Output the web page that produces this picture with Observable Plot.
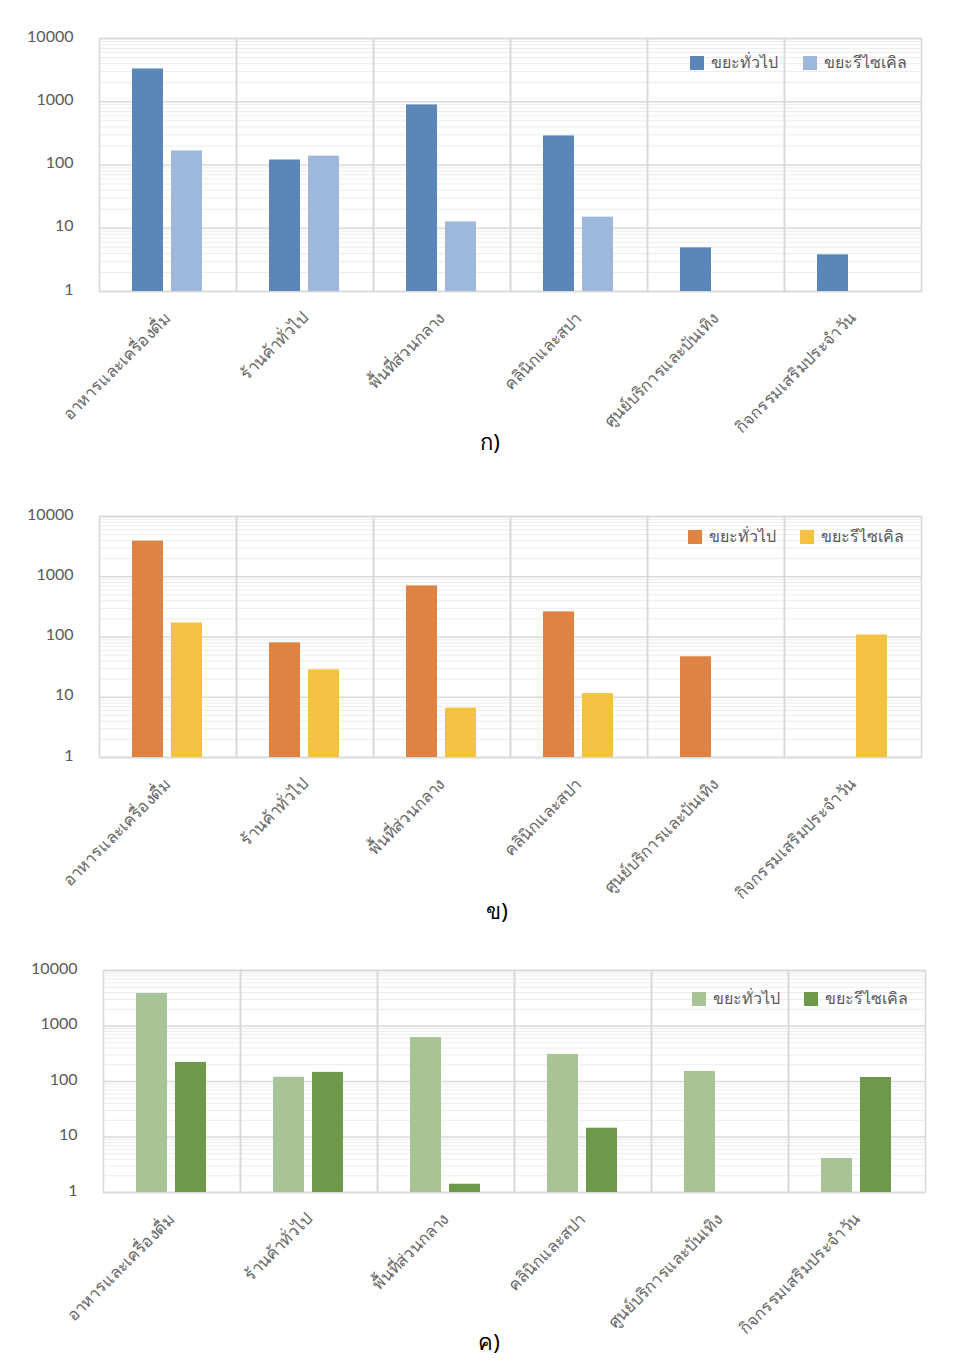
<!DOCTYPE html>
<html>
<head>
<meta charset="utf-8">
<script src="https://cdn.jsdelivr.net/npm/d3@7"></script>
<script src="https://cdn.jsdelivr.net/npm/@observablehq/plot@0.6"></script>
<style>
  html, body { margin: 0; padding: 0; background: #fff; }
  body { width: 966px; height: 1370px; position: relative; overflow: hidden;
         font-family: "Noto Sans", "DejaVu Sans", sans-serif; }
  .panel { position: absolute; left: 0; }
  .legitem { position: absolute; display: flex; align-items: center; font-size: 16px; color: #595959; white-space: nowrap; }
  .legitem .sw { display: inline-block; width: 14px; height: 14px; margin-right: 7px; }
  .caption { position: absolute; font-size: 22px; color: #000; transform: translate(-50%, -50%); }
</style>
</head>
<body>
<script>
// ---------- data ----------
const categories = ["อาหารและเครื่องดื่ม", "ร้านค้าทั่วไป", "พื้นที่ส่วนกลาง", "คลินิกและสปา", "ศูนย์บริการและบันเทิง", "กิจกรรมเสริมประจำวัน"];
const seriesNames = ["ขยะทั่วไป", "ขยะรีไซเคิล"];

const generalA = [3300, 120, 890, 288, 4.9, 3.8];
const recycleA = [167, 138, 12.6, 15, null, null];

const generalB = [3900, 80, 705, 261, 47, null];
const recycleB = [171, 28.5, 6.6, 11.5, null, 108];

const generalC = [3850, 119, 620, 308, 152, 4.1];
const recycleC = [221, 146, 1.41, 14.4, null, 118];

const yTicks = [1, 10, 100, 1000, 10000];
const panelLabels = ["ก)", "ข)", "ค)"];

const colorsA = ["#5B86B8", "#9EB8DC"];
const colorsB = ["#DF8344", "#F4C242"];
const colorsC = ["#A8C496", "#6E994A"];

// minor log gridlines (2..9 within each decade)
const minorTicks = [];
for (const d of yTicks.slice(0, -1)) for (let m = 2; m <= 9; m++) minorTicks.push(m * d);

function makePanel(general, recycle, colors, L) {
  const rows = [];
  categories.forEach((c, i) => {
    if (general[i] != null) rows.push({cat: c, series: seriesNames[0], value: general[i]});
    if (recycle[i] != null) rows.push({cat: c, series: seriesNames[1], value: recycle[i]});
  });

  const chart = Plot.plot({
    width: 966,
    height: L.height,
    marginLeft: L.ml,
    marginRight: L.mr,
    marginTop: L.mt,
    marginBottom: L.mb,
    style: {fontFamily: "Lato, 'Noto Sans', sans-serif", color: "#595959", background: "transparent"},
    fx: {domain: categories, padding: 0, label: null},
    x: {domain: seriesNames, paddingInner: 0.2, paddingOuter: 0.85, axis: null},
    y: {type: "log", domain: [1, 10000], axis: null},
    color: {domain: seriesNames, range: colors},
    marks: [
      Plot.ruleY(minorTicks, {stroke: "#ececec", strokeWidth: 1}),
      Plot.ruleY(yTicks, {stroke: "#d9d9d9", strokeWidth: 1.6}),
      Plot.frame({stroke: "#d9d9d9", strokeWidth: 1.6}),
      Plot.barY(rows, {fx: "cat", x: "series", y1: 1, y2: "value", fill: "series", inset: 0}),
      Plot.axisY({ticks: yTicks, tickFormat: d => String(d), tickSize: 0, tickPadding: 26, dy: -2, fontSize: 16, fill: "#595959", label: null, fontFamily: "Lato, sans-serif"}),
      Plot.axisFx({anchor: "bottom", tickRotate: -45, tickSize: 0, tickPadding: 24, fontSize: 16.5, fill: "#666666", label: null})
    ]
  });
  chart.classList.add("panel");
  chart.style.top = L.top + "px";
  document.body.appendChild(chart);

  seriesNames.forEach((s, i) => {
    const it = document.createElement("div");
    it.className = "legitem";
    it.style.left = L.legX[i] + "px";
    it.style.top = L.legY + "px";
    const sw = document.createElement("span");
    sw.className = "sw";
    sw.style.background = colors[i];
    it.appendChild(sw);
    it.appendChild(document.createTextNode(s));
    document.body.appendChild(it);
  });

  const cap = document.createElement("div");
  cap.className = "caption";
  cap.textContent = L.caption;
  cap.style.left = L.capX + "px";
  cap.style.top = L.capY + "px";
  document.body.appendChild(cap);
}

makePanel(generalA, recycleA, colorsA, {top: 0, height: 440, ml: 99, mr: 45, mt: 38, mb: 149, legX: [690, 803], legY: 50, caption: panelLabels[0], capX: 490, capY: 442});
makePanel(generalB, recycleB, colorsB, {top: 480, height: 430, ml: 99, mr: 45, mt: 36, mb: 153, legX: [688, 800], legY: 524, caption: panelLabels[1], capX: 497, capY: 911});
makePanel(generalC, recycleC, colorsC, {top: 940, height: 420, ml: 101, mr: 40, mt: 30, mb: 168, legX: [692, 804], legY: 986, caption: panelLabels[2], capX: 489, capY: 1342});
</script>
</body>
</html>
